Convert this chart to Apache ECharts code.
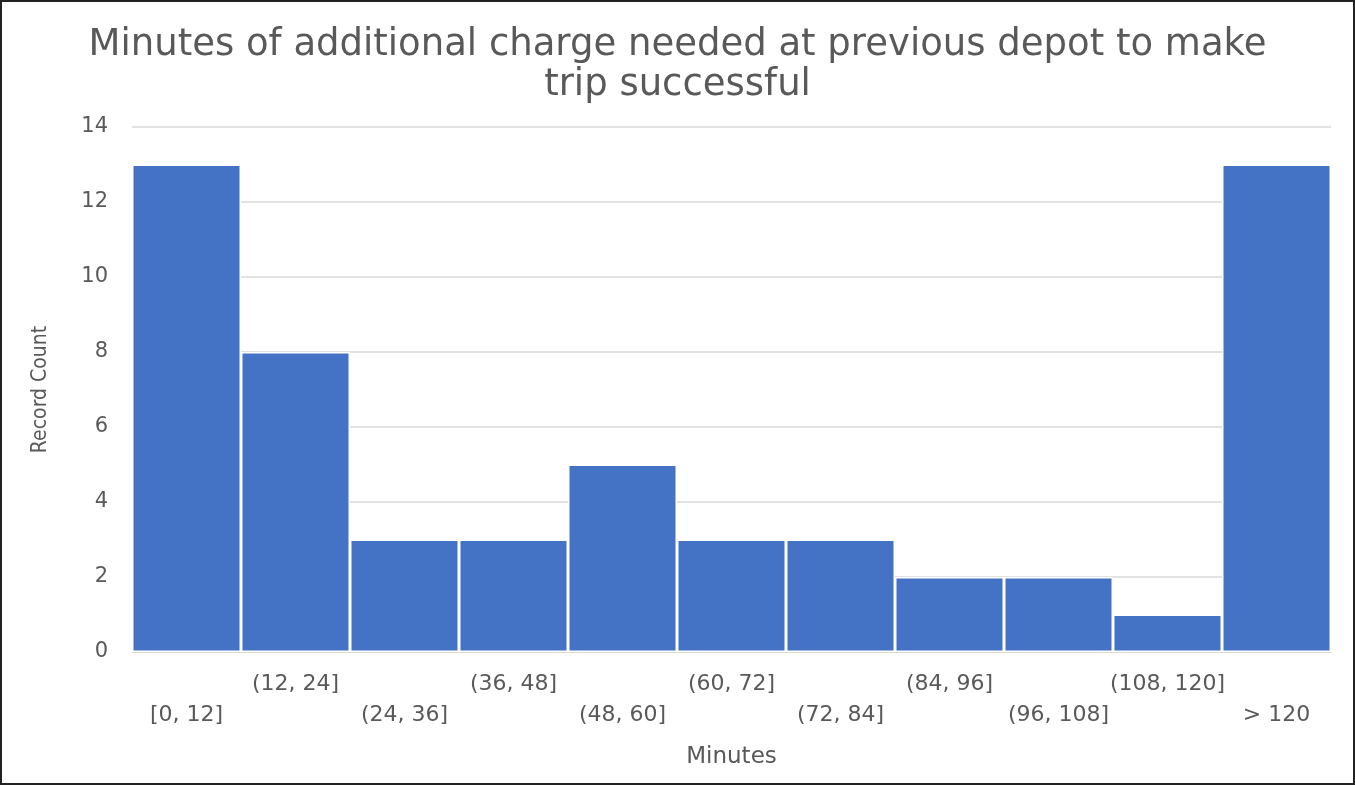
<!DOCTYPE html>
<html>
<head>
<meta charset="utf-8">
<script src="https://cdn.jsdelivr.net/npm/echarts@6/dist/echarts.min.js"></script>
<style>
html,body{margin:0;padding:0;background:#fff;}
#frame{position:absolute;left:0;top:0;width:1355px;height:785px;box-sizing:border-box;border:2px solid #222;}
#chart{position:absolute;left:0;top:0;width:1355px;height:785px;}
</style>
</head>
<body>
<div id="chart"></div>
<div id="frame"></div>
<script>
const categories = ['[0, 12]', '(12, 24]', '(24, 36]', '(36, 48]', '(48, 60]', '(60, 72]', '(72, 84]', '(84, 96]', '(96, 108]', '(108, 120]', '> 120'];
const counts = [13, 8, 3, 3, 5, 3, 3, 2, 2, 1, 13];
const yTicks = { min: 0, max: 14, interval: 2 };

const chart = echarts.init(document.getElementById('chart'));
const txt = '#595959';
const font = "'DejaVu Sans', 'Open Sans', sans-serif";
chart.setOption({
  animation: false,
  title: {
    text: 'Minutes of additional charge needed at previous depot to make\ntrip successful',
    left: 'center',
    top: 20,
    textStyle: { color: txt, fontSize: 37, fontWeight: 'normal', fontFamily: font, lineHeight: 40 }
  },
  grid: { left: 132, right: 24, top: 127, bottom: 133 },
  xAxis: {
    type: 'category',
    data: categories,
    name: 'Minutes',
    nameLocation: 'middle',
    nameGap: 94,
    nameTextStyle: { color: txt, fontSize: 23, fontFamily: font },
    axisLine: { show: true, lineStyle: { color: '#d9d9d9' } },
    axisTick: { show: false },
    axisLabel: {
      interval: 0,
      margin: 17,
      color: txt,
      fontSize: 22,
      lineHeight: 31,
      fontFamily: font,
      formatter: function (v, i) { return i % 2 === 0 ? '\n' + v : v + '\n'; }
    }
  },
  yAxis: {
    type: 'value',
    min: yTicks.min, max: yTicks.max, interval: yTicks.interval,
    name: 'Record Count',
    nameLocation: 'middle',
    nameGap: 81,
    nameTextStyle: { color: txt, fontSize: 21, fontFamily: "'Liberation Sans Narrow', 'DejaVu Sans Condensed', sans-serif" },
    axisLine: { show: false },
    axisTick: { show: false },
    axisLabel: { color: txt, fontSize: 21, fontFamily: font, margin: 24 },
    splitLine: { lineStyle: { color: '#d9d9d9', width: 1.5 } }
  },
  series: [{
    type: 'bar',
    data: counts,
    barCategoryGap: '0%',
    itemStyle: { color: '#4472C4', borderColor: '#ffffff', borderWidth: 1.5 }
  }]
});
</script>
</body>
</html>
